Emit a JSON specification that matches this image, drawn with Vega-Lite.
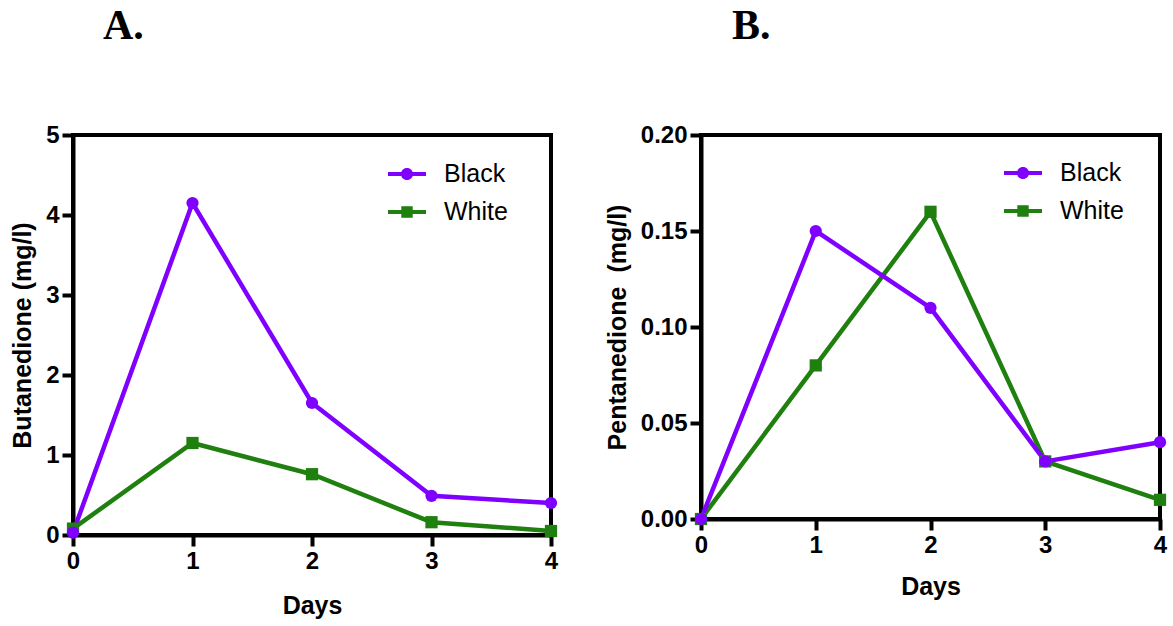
{
  "$schema": "https://vega.github.io/schema/vega-lite/v6.json",
  "background": "white",
  "padding": {"left": 8, "top": 3, "right": 5, "bottom": 5},
  "spacing": 41,
  "config": {
    "font": "Liberation Sans",
    "view": {"stroke": "black", "strokeWidth": 4},
    "axis": {"domainColor": "black", "domainWidth": 4, "tickColor": "black", "tickWidth": 4, "tickSize": 11, "labelFont": "Liberation Sans", "labelFontWeight": "bold", "labelFontSize": 24, "labelColor": "black", "titleFont": "Liberation Sans", "titleFontWeight": "bold", "titleFontSize": 25, "titleColor": "black", "grid": false, "labelPadding": 3, "labelFlush": false},
    "title": {"font": "Liberation Serif", "fontSize": 42, "fontWeight": "bold", "anchor": "start", "frame": "group", "color": "black"},
    "legend": {"orient": "none", "labelFont": "Liberation Sans", "labelFontSize": 25, "labelColor": "black", "symbolSize": 1444, "symbolStrokeWidth": 0, "labelOffset": 18, "rowPadding": 6, "padding": 0, "symbolOpacity": 1},
    "line": {"strokeWidth": 4.5},
    "point": {"filled": true, "opacity": 1}
  },
  "datasets": {
    "butane": [
      {"day": 0, "series": "White", "value": 0.08},
      {"day": 1, "series": "White", "value": 1.15},
      {"day": 2, "series": "White", "value": 0.76},
      {"day": 3, "series": "White", "value": 0.16},
      {"day": 4, "series": "White", "value": 0.05},
      {"day": 0, "series": "Black", "value": 0.03},
      {"day": 1, "series": "Black", "value": 4.15},
      {"day": 2, "series": "Black", "value": 1.65},
      {"day": 3, "series": "Black", "value": 0.49},
      {"day": 4, "series": "Black", "value": 0.4}
    ],
    "pentane": [
      {"day": 0, "series": "White", "value": 0},
      {"day": 1, "series": "White", "value": 0.08},
      {"day": 2, "series": "White", "value": 0.16},
      {"day": 3, "series": "White", "value": 0.03},
      {"day": 4, "series": "White", "value": 0.01},
      {"day": 0, "series": "Black", "value": 0},
      {"day": 1, "series": "Black", "value": 0.15},
      {"day": 2, "series": "Black", "value": 0.11},
      {"day": 3, "series": "Black", "value": 0.03},
      {"day": 4, "series": "Black", "value": 0.04}
    ]
  },
  "hconcat": [
    {
      "title": {"text": "A.", "dx": 30, "offset": 75},
      "width": 478,
      "height": 400,
      "data": {"name": "butane"},
      "encoding": {
        "x": {"field": "day", "type": "quantitative", "scale": {"domain": [0, 4], "nice": false}, "axis": {"values": [0, 1, 2, 3, 4], "format": "d", "title": "Days", "titlePadding": 20}},
        "y": {"field": "value", "type": "quantitative", "scale": {"domain": [0, 5], "nice": false}, "axis": {"values": [0, 1, 2, 3, 4, 5], "format": "d", "title": "Butanedione (mg/l)", "titlePadding": 10}}
      },
      "layer": [
        {"mark": "line", "encoding": {"stroke": {"field": "series", "type": "nominal", "scale": {"range": ["#7F00FF", "#1F7F0F"]}, "legend": null}, "order": {"field": "series", "sort": "descending"}}},
        {"mark": {"type": "point", "size": 150},
         "encoding": {
           "color": {"field": "series", "type": "nominal", "scale": {"domain": ["Black", "White"], "range": ["#7F00FF", "#1F7F0F"]},
             "legend": {"title": null, "legendX": 315, "legendY": 20,
               "encode": {"symbols": {"update": {"shape": {"signal": "datum.value === 'Black' ? 'M-1,-0.11H1V0.11H-1Z M0.32,0A0.32,0.32,0,1,1,-0.32,0A0.32,0.32,0,1,1,0.32,0Z' : 'M-1,-0.11H1V0.11H-1Z M-0.3,-0.3H0.3V0.3H-0.3Z'"}}}}}},
           "shape": {"field": "series", "type": "nominal", "scale": {"range": ["circle", "square"]}, "legend": null}
         }}
      ]
    },
    {
      "title": {"text": "B.", "dx": 31, "offset": 75},
      "width": 459,
      "height": 384,
      "data": {"name": "pentane"},
      "encoding": {
        "x": {"field": "day", "type": "quantitative", "scale": {"domain": [0, 4], "nice": false}, "axis": {"values": [0, 1, 2, 3, 4], "format": "d", "title": "Days", "titlePadding": 17}},
        "y": {"field": "value", "type": "quantitative", "scale": {"domain": [0, 0.2], "nice": false}, "axis": {"values": [0, 0.05, 0.1, 0.15, 0.2], "format": ".2f", "title": "Pentanedione\u00a0 (mg/l)", "titlePadding": 10}}
      },
      "layer": [
        {"mark": "line", "encoding": {"stroke": {"field": "series", "type": "nominal", "scale": {"range": ["#7F00FF", "#1F7F0F"]}, "legend": null}, "order": {"field": "series", "sort": "descending"}}},
        {"mark": {"type": "point", "size": 150},
         "encoding": {
           "color": {"field": "series", "type": "nominal", "scale": {"domain": ["Black", "White"], "range": ["#7F00FF", "#1F7F0F"]},
             "legend": {"title": null, "legendX": 303, "legendY": 19,
               "encode": {"symbols": {"update": {"shape": {"signal": "datum.value === 'Black' ? 'M-1,-0.11H1V0.11H-1Z M0.32,0A0.32,0.32,0,1,1,-0.32,0A0.32,0.32,0,1,1,0.32,0Z' : 'M-1,-0.11H1V0.11H-1Z M-0.3,-0.3H0.3V0.3H-0.3Z'"}}}}}},
           "shape": {"field": "series", "type": "nominal", "scale": {"range": ["circle", "square"]}, "legend": null}
         }}
      ]
    }
  ],
  "resolve": {"scale": {"color": "independent", "stroke": "independent", "shape": "independent"}, "legend": {"color": "independent", "stroke": "independent", "shape": "independent"}}
}
